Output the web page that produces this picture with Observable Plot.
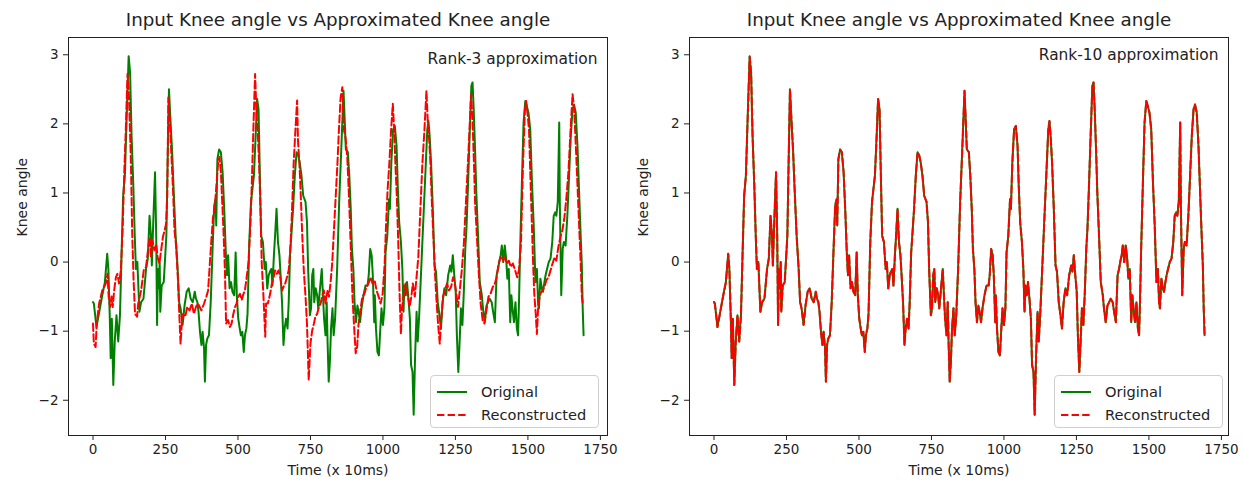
<!DOCTYPE html>
<html>
<head>
<meta charset="utf-8">
<script src="https://cdn.jsdelivr.net/npm/d3@7"></script>
<script src="https://cdn.jsdelivr.net/npm/@observablehq/plot@0.6"></script>
<style>
  html, body { margin: 0; padding: 0; background: #fff; }
  #wrap { position: relative; width: 1244px; height: 484px; display: flex; font-family: "DejaVu Sans", sans-serif; }
  .panel { position: relative; }
  .legend { position: absolute; box-sizing: border-box; border: 1px solid #d0d0d0; border-radius: 4px; background: rgba(255,255,255,0.85); font-size: 14.6px; color: #222; padding: 4px 6px 0 6px; }
  .legend .row { display: flex; align-items: center; height: 23px; }
  .legend svg { margin-right: 14px; }
</style>
</head>
<body>
<div id="wrap"></div>
<script>
// ---- Data ----
const title = "Input Knee angle vs Approximated Knee angle";
const rankLabels = ["Rank-3 approximation", "Rank-10 approximation"];
const seriesNames = ["Original", "Reconstructed"];
const xTicks = [0, 250, 500, 750, 1000, 1250, 1500, 1750];
const yTicks = [-2, -1, 0, 1, 2, 3];

// Original knee angle (shared by both panels)
const origT = [0,3,12,32,41,49,53,58,61,65,70,75,81,87,93,99,104,110,116,123,128,133,139,144,148,153,160,166,174,183,189,195,200,203,209,214,218,221,224,227,230,232,237,244,253,258,262,267,273,278,285,292,297,302,309,316,323,330,337,344,351,355,360,364,369,374,378,383,386,390,394,400,406,412,418,423,425,429,435,441,447,453,458,462,466,471,476,481,487,492,496,501,506,510,515,520,524,529,533,539,545,555,561,566,571,575,580,586,592,596,601,606,610,615,619,624,628,633,638,643,647,652,657,661,666,671,675,680,684,690,696,702,708,713,719,725,733,738,742,748,752,756,760,763,768,773,777,783,789,793,797,802,806,809,813,817,821,826,830,835,842,849,856,864,868,872,879,884,889,893,898,902,907,912,916,921,926,933,940,947,951,956,961,965,970,972,976,981,986,991,995,1000,1005,1009,1015,1021,1024,1029,1035,1041,1047,1051,1056,1062,1067,1071,1074,1079,1083,1088,1093,1097,1102,1106,1111,1116,1120,1125,1132,1139,1146,1153,1157,1161,1166,1172,1178,1183,1189,1195,1200,1206,1212,1218,1225,1232,1236,1241,1246,1251,1255,1260,1264,1269,1274,1279,1284,1288,1293,1299,1305,1309,1313,1318,1322,1328,1334,1341,1345,1351,1357,1363,1368,1375,1380,1386,1392,1397,1401,1406,1410,1415,1420,1425,1429,1434,1439,1443,1448,1452,1457,1462,1466,1469,1473,1479,1485,1491,1496,1502,1508,1514,1520,1526,1531,1535,1538,1543,1548,1552,1557,1561,1566,1572,1578,1584,1589,1594,1598,1603,1608,1610,1615,1620,1624,1630,1636,1642,1648,1654,1659,1665,1671,1677,1682,1686,1689,1692];
const origV = [-0.58,-0.6,-0.94,-0.48,-0.29,0.12,-0.1,-0.82,-1.39,-0.82,-1.78,-1.15,-0.77,-1.15,-0.77,0.19,0.96,1.25,2.07,2.98,2.74,1.83,1.11,0.38,-0.1,0,-0.72,-0.58,-0.53,-0.1,0.05,0.67,0.38,-0.05,0.72,1.3,0.38,-0.91,-0.1,-0.38,0,-0.72,-0.34,-0.29,0.38,1.59,2.5,2.07,1.59,1.06,0.38,-0.1,-0.58,-0.67,-0.91,-0.62,-0.43,-0.38,-0.53,-0.58,-0.43,-0.53,-0.58,-0.72,-1.01,-1.2,-1.01,-1.25,-1.73,-1.2,-1.11,-1.06,-0.58,0.14,0.82,0.91,0.53,1.49,1.63,1.59,1.3,0.72,0.14,-0.19,0.1,-0.38,-0.29,-0.43,-0.48,0.14,-0.48,-0.82,-0.96,-1.06,-1.01,-1.3,-1.06,-0.96,-0.75,0.29,0.87,1.25,1.83,2.36,2.21,1.35,0.38,0.29,-0.1,0,-0.38,-0.19,-0.14,-0.1,-0.34,0.1,0.38,0.77,0.29,0.1,-0.19,-0.58,-1.2,-0.96,-0.82,-0.96,-0.58,0.14,0.38,0.77,1.25,1.59,1.54,1.44,1.25,0.96,0.87,0.58,-0.1,-0.77,-0.67,-0.19,-0.1,-0.58,-0.38,-0.48,-0.67,-0.38,-0.1,-0.48,-0.82,-1.06,-0.58,-1.15,-1.73,-1.44,-0.96,-0.67,-1.06,-0.82,-0.1,0.87,1.6,2.48,2.07,1.63,1.59,1.25,0.77,0.19,-0.1,-0.58,-0.87,-0.63,-0.72,-0.87,-0.67,-0.48,-0.34,-0.34,-0.19,0.19,0.1,-0.19,-0.87,-0.48,-0.96,-1.3,-1.35,-0.96,-0.67,-0.91,-0.67,0.14,0.38,0.91,0.77,1.44,1.92,1.97,1.68,1.11,0.58,0.29,-0.1,-0.72,-0.34,-0.48,-0.29,-0.53,-0.82,-1.49,-1.59,-2.21,-1.35,-0.72,-1.15,-0.77,-0.1,0.58,1.25,1.92,2.04,1.83,1.44,0.77,-0.05,-0.14,-0.58,-0.77,-0.96,-0.58,-0.38,-0.48,-0.19,-0.05,-0.14,0.1,-0.19,-0.43,-1.06,-1.59,-1.2,-0.67,-0.91,-0.43,0.19,0.48,1.06,1.83,2.55,2.6,2.21,1.59,1.01,0.38,-0.29,-0.48,-0.67,-0.87,-0.63,-0.58,-0.53,-0.58,-0.72,-0.87,-0.19,-0.1,0,0.1,0.24,0,0.24,0.05,-0.24,-0.1,-0.87,-0.48,-0.72,-0.87,-0.58,-0.96,-1.06,-0.62,0.14,1.11,2.02,2.33,2.26,2.16,1.92,1.15,0.53,-0.29,-0.1,-0.58,-0.67,-0.24,-0.38,-0.43,-0.29,-0.19,-0.1,0,0.05,0.29,0.67,0.72,0.67,0.87,2.02,0.87,-0.48,0.19,0.29,0.24,0.67,1.25,1.83,2.21,2.28,2.16,1.68,0.96,0.38,-0.05,-0.67,-1.06];

// Rank-3 reconstruction
const rank3T = [0,3,9,13,21,27,32,38,44,50,54,59,64,68,73,79,84,90,96,102,108,113,119,123,126,131,135,140,145,152,156,166,175,183,191,195,200,205,212,218,223,229,235,241,247,252,256,260,264,267,272,277,281,287,293,299,302,307,311,318,325,333,341,348,355,362,368,374,383,391,397,403,409,414,420,426,432,436,441,446,450,455,459,466,472,478,484,490,495,501,507,513,519,524,530,536,542,547,553,559,564,568,573,578,582,588,594,597,603,611,617,623,628,634,640,646,652,657,663,669,675,681,686,692,698,704,707,712,716,721,727,733,738,744,750,756,762,767,773,779,785,790,796,802,808,814,819,825,831,837,843,848,854,860,866,871,877,883,889,895,900,906,911,916,922,929,936,943,950,957,964,971,978,985,992,999,1006,1010,1016,1022,1028,1034,1039,1043,1048,1053,1057,1062,1066,1071,1078,1085,1092,1098,1103,1110,1115,1122,1129,1136,1143,1150,1155,1159,1164,1168,1173,1179,1184,1190,1196,1201,1207,1214,1221,1228,1235,1242,1248,1253,1259,1265,1272,1279,1286,1293,1300,1304,1309,1314,1318,1323,1330,1337,1344,1350,1357,1364,1371,1379,1386,1392,1399,1406,1413,1420,1427,1434,1441,1448,1456,1463,1469,1476,1483,1490,1494,1499,1504,1508,1513,1518,1522,1527,1531,1536,1543,1550,1557,1564,1571,1578,1585,1592,1598,1605,1612,1619,1626,1633,1640,1647,1654,1659,1663,1668,1675,1682,1686,1689];
const rank3V = [-0.89,-1.18,-1.23,-0.89,-0.6,-0.5,-0.41,-0.36,-0.31,-0.17,-0.5,-0.65,-0.5,-0.65,-0.41,-0.22,-0.17,-0.31,-0.12,0.46,1.32,1.9,2.72,2.53,2.14,1.42,0.46,-0.26,-0.75,-0.79,-0.6,-0.41,-0.12,-0.07,0.22,0.36,0.07,0.31,0.17,0.26,0.07,-0.02,0.17,0.36,0.46,0.55,0.94,2.38,2.14,1.85,1.42,0.94,0.46,0.22,-0.26,-0.89,-1.18,-0.84,-0.75,-0.79,-0.65,-0.7,-0.6,-0.75,-0.65,-0.6,-0.65,-0.7,-0.6,-0.5,-0.41,-0.02,0.36,0.65,0.79,1.13,1.47,1.52,1.32,0.84,0.46,-0.12,-0.89,-0.84,-0.94,-0.89,-0.75,-0.65,-0.6,-0.5,-0.46,-0.55,-0.46,-0.41,-0.22,-0.02,0.46,1.04,1.9,2.72,2.14,1.9,1.42,0.7,-0.02,-0.5,-1.08,-0.6,-0.6,-0.46,-0.31,-0.22,-0.12,-0.17,-0.12,-0.22,-0.41,-0.36,-0.31,-0.22,-0.12,0.22,0.7,1.42,1.9,2.34,1.76,1.42,1.04,0.46,-0.12,-0.5,-0.89,-1.71,-1.18,-0.99,-0.89,-0.79,-0.75,-0.65,-0.6,-0.5,-0.41,-0.6,-0.41,-0.5,-0.31,-0.02,0.46,0.94,1.42,1.9,2.38,2.53,1.9,1.8,1.52,0.94,0.22,-0.5,-0.89,-1.32,-1.23,-0.89,-0.7,-0.5,-0.46,-0.36,-0.31,-0.22,-0.31,-0.26,-0.41,-0.5,-0.6,-0.46,-0.02,0.46,1.04,1.42,1.9,2.29,1.9,1.42,0.94,0.26,-0.41,-1.04,-0.65,-0.5,-0.31,-0.46,-0.65,-0.5,-0.31,-0.5,-0.26,0.07,0.75,1.42,1.9,2.48,2.0,1.8,1.42,0.94,0.46,-0.12,-0.5,-0.89,-1.18,-0.84,-0.5,-0.41,-0.31,-0.41,-0.36,-0.22,-0.31,-0.46,-0.65,-0.41,-0.12,0.26,0.84,1.42,2.05,2.43,2.05,1.42,0.84,0.46,-0.12,-0.6,-0.84,-0.89,-0.7,-0.5,-0.46,-0.36,-0.31,-0.22,-0.02,0.07,0.02,0.07,-0.02,0.02,-0.07,-0.02,-0.12,-0.22,-0.12,0.26,1.42,2.24,2.33,2.14,1.9,1.32,0.65,-0.02,-0.46,-0.75,-1.04,-0.6,-0.46,-0.41,-0.36,-0.26,-0.22,-0.12,-0.02,0.07,0.02,0.22,0.36,0.46,0.65,0.94,1.32,1.9,2.43,2.24,1.9,1.42,0.7,-0.02,-0.5,-0.6];

// Rank-10 reconstruction (indistinguishable from the original at this scale)
const rank10T = origT;
const rank10V = [-0.58,-0.6,-0.94,-0.48,-0.29,0.12,-0.1,-0.82,-1.39,-0.82,-1.78,-1.15,-0.77,-1.15,-0.77,0.19,0.96,1.25,2.07,2.97,2.74,1.83,1.11,0.38,-0.1,0,-0.72,-0.58,-0.53,-0.1,0.05,0.67,0.38,-0.05,0.72,1.3,0.38,-0.91,-0.1,-0.38,0,-0.72,-0.34,-0.29,0.38,1.59,2.5,2.07,1.59,1.06,0.38,-0.1,-0.58,-0.67,-0.91,-0.62,-0.43,-0.38,-0.53,-0.58,-0.43,-0.53,-0.58,-0.72,-1.01,-1.2,-1.01,-1.25,-1.73,-1.2,-1.11,-1.06,-0.58,0.14,0.82,0.91,0.53,1.49,1.63,1.59,1.3,0.72,0.14,-0.19,0.1,-0.38,-0.29,-0.43,-0.48,0.14,-0.48,-0.82,-0.96,-1.06,-1.01,-1.3,-1.06,-0.96,-0.75,0.29,0.87,1.25,1.83,2.36,2.21,1.35,0.38,0.29,-0.1,0,-0.38,-0.19,-0.14,-0.1,-0.34,0.1,0.38,0.77,0.29,0.1,-0.19,-0.58,-1.2,-0.96,-0.82,-0.96,-0.58,0.14,0.38,0.77,1.25,1.59,1.54,1.44,1.25,0.96,0.87,0.58,-0.1,-0.77,-0.67,-0.19,-0.1,-0.58,-0.38,-0.48,-0.67,-0.38,-0.1,-0.48,-0.82,-1.06,-0.58,-1.15,-1.73,-1.44,-0.96,-0.67,-1.06,-0.82,-0.1,0.87,1.6,2.48,2.07,1.63,1.59,1.25,0.77,0.19,-0.1,-0.58,-0.87,-0.63,-0.72,-0.87,-0.67,-0.48,-0.34,-0.34,-0.19,0.19,0.1,-0.19,-0.87,-0.48,-0.96,-1.3,-1.35,-0.96,-0.67,-0.91,-0.67,0.14,0.38,0.91,0.77,1.44,1.92,1.97,1.68,1.11,0.58,0.29,-0.1,-0.72,-0.34,-0.48,-0.29,-0.53,-0.82,-1.49,-1.59,-2.21,-1.35,-0.72,-1.15,-0.77,-0.1,0.58,1.25,1.92,2.04,1.83,1.44,0.77,-0.05,-0.14,-0.58,-0.77,-0.96,-0.58,-0.38,-0.48,-0.19,-0.05,-0.14,0.1,-0.19,-0.43,-1.06,-1.59,-1.2,-0.67,-0.91,-0.43,0.19,0.48,1.06,1.83,2.55,2.6,2.21,1.59,1.01,0.38,-0.29,-0.48,-0.67,-0.87,-0.63,-0.58,-0.53,-0.58,-0.72,-0.87,-0.19,-0.1,0,0.1,0.24,0,0.24,0.05,-0.24,-0.1,-0.87,-0.48,-0.72,-0.87,-0.58,-0.96,-1.06,-0.62,0.14,1.11,2.02,2.33,2.26,2.16,1.92,1.15,0.53,-0.29,-0.1,-0.58,-0.67,-0.24,-0.38,-0.43,-0.29,-0.19,-0.1,0,0.05,0.29,0.67,0.72,0.67,0.87,2.02,0.87,-0.48,0.19,0.29,0.24,0.67,1.25,1.83,2.21,2.28,2.16,1.68,0.96,0.38,-0.05,-0.67,-1.06];

// ---- Drawing ----
const rows = (T, V) => T.map((t, i) => ({t, v: V[i]}));
const fmt = d3.format("d");

function panel(recT, recV, rankLabel, opts) {
  const plot = Plot.plot({
    width: opts.width, height: 484,
    marginLeft: opts.ml, marginRight: opts.mr, marginTop: 37, marginBottom: 49,
    style: {fontFamily: "DejaVu Sans", fontSize: "13.5px", color: "#222", background: "#fff"},
    x: {domain: [-84.5, 1774.5]},
    y: {domain: [-2.51, 3.25]},
    marks: [
      Plot.axisX({ticks: xTicks, tickFormat: fmt, tickSize: 5, tickPadding: 4, label: null, stroke: "#222"}),
      Plot.axisY({ticks: yTicks, tickFormat: fmt, tickSize: 5, tickPadding: 5, label: null, stroke: "#222"}),
      Plot.line(rows(origT, origV), {x: "t", y: "v", stroke: "#008000", strokeWidth: 2}),
      Plot.line(rows(recT, recV), {x: "t", y: "v", stroke: "#ff0000", strokeWidth: 2, strokeDasharray: "7.4,3.2"}),
      Plot.frame({stroke: "#222", strokeWidth: 1}),
      Plot.text([title], {frameAnchor: "top", lineAnchor: "middle", dy: -17, fontSize: 18.3, fill: "#222"}),
      Plot.text([rankLabel], {frameAnchor: "top-right", lineAnchor: "middle", dx: -10, dy: opts.rankDy, textAnchor: "end", fontSize: 15.4, fill: "#222"}),
      Plot.text(["Time (x 10ms)"], {frameAnchor: "bottom", lineAnchor: "middle", dy: 35, fontSize: 14, fill: "#222"}),
      Plot.text(["Knee angle"], {frameAnchor: "left", dx: -46, rotate: -90, fontSize: 14, fill: "#222"})
    ]
  });
  const div = document.createElement("div");
  div.className = "panel";
  div.style.width = opts.width + "px";
  div.appendChild(plot);
  const lg = document.createElement("div");
  lg.className = "legend";
  lg.style.left = opts.lgLeft + "px";
  lg.style.top = "375px";
  lg.style.width = "169px";
  lg.style.height = "53px";
  lg.innerHTML =
    `<div class="row"><svg width="30" height="6"><line x1="0" y1="3" x2="30" y2="3" stroke="#008000" stroke-width="2"/></svg><span>${seriesNames[0]}</span></div>` +
    `<div class="row"><svg width="30" height="6"><line x1="0" y1="3" x2="30" y2="3" stroke="#ff0000" stroke-width="2" stroke-dasharray="7.4,3.2"/></svg><span>${seriesNames[1]}</span></div>`;
  div.appendChild(lg);
  return div;
}

const wrap = document.getElementById("wrap");
wrap.appendChild(panel(rank3T, rank3V, rankLabels[0], {width: 622, ml: 68, mr: 15, rankDy: 22, lgLeft: 430}));
wrap.appendChild(panel(rank10T, rank10V, rankLabels[1], {width: 622, ml: 67, mr: 16, rankDy: 18, lgLeft: 432}));
</script>
</body>
</html>
